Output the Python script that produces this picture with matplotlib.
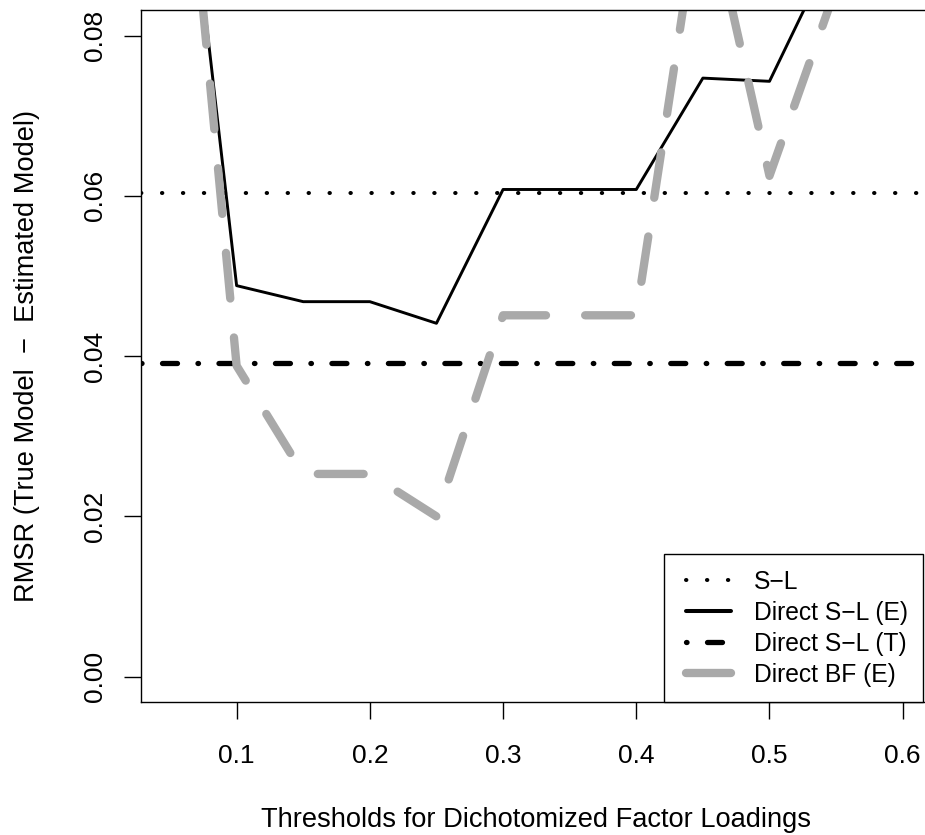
import matplotlib
matplotlib.use("Agg")
import matplotlib.pyplot as plt
from matplotlib.lines import Line2D
from matplotlib.legend_handler import HandlerLine2D

# thresholds on x, RMSR values
thresholds = [0.05, 0.10, 0.15, 0.20, 0.25, 0.30, 0.35, 0.40, 0.45, 0.50, 0.55, 0.60]
direct_sl_e = [0.121, 0.0488, 0.0468, 0.0468, 0.0441, 0.0608, 0.0608, 0.0608, 0.0747, 0.0743, 0.0915, 0.100]
direct_bf_e = [0.127, 0.0388, 0.0253, 0.0253, 0.0200, 0.0451, 0.0451, 0.0451, 0.0995, 0.0625, 0.086, 0.095]
sl_value = 0.0603
direct_sl_t_value = 0.0392

series_labels = ["S\u2212L", "Direct S\u2212L (E)", "Direct S\u2212L (T)", "Direct BF (E)"]
x_ticks = [0.1, 0.2, 0.3, 0.4, 0.5, 0.6]
y_ticks = [0.00, 0.02, 0.04, 0.06, 0.08]

plt.rcParams["font.family"] = ["Liberation Sans", "DejaVu Sans"]

W, H = 925, 835
fig = plt.figure(figsize=(W / 100, H / 100), dpi=100)
# plot region in pixels (right edge sits past the image border, as in the reference)
left, right, top, bottom = 140.7, 932.0, 10.0, 702.3
ax = fig.add_axes([left / W, (H - bottom) / H, (right - left) / W, (bottom - top) / H])

round_kw = dict(dash_capstyle="round", solid_capstyle="round", dash_joinstyle="round", solid_joinstyle="round")

h_sl = ax.axhline(sl_value, color="black", lw=2.9, linestyle=(0, (0.1, 5.1)), **round_kw)
h_e, = ax.plot(thresholds, direct_sl_e, color="black", lw=2.1, **round_kw)
h_t = ax.axhline(direct_sl_t_value, color="black", lw=3.8, linestyle=(0, (0.1, 3.88, 2.84, 3.88)), **round_kw)
h_bf, = ax.plot(thresholds, direct_bf_e, color="darkgray", lw=6.0, linestyle=(0, (5.5, 4.7)), **round_kw)

ax.set_xlim(0.028, 0.622)
ax.set_ylim(-0.0032, 0.0832)

ax.set_xticks(x_ticks)
ax.set_xticklabels([f"{t:.1f}" for t in x_ticks])
ax.set_yticks(y_ticks)
ax.set_yticklabels([f"{t:.2f}" for t in y_ticks], rotation=90, va="center")

ax.tick_params(axis="both", length=12.0, width=1.0, labelsize=19, color="black")
ax.tick_params(axis="x", pad=18)
ax.tick_params(axis="y", pad=12.2)
for s in ax.spines.values():
    s.set_linewidth(1.0)

ax.set_xlabel("Thresholds for Dichotomized Factor Loadings", fontsize=19.6, va="baseline")
ax.xaxis.set_label_coords(0.5, (bottom - 826.7) / (bottom - top))
ax.set_ylabel("RMSR (True Model  \u2212  Estimated Model)", fontsize=19.6, va="center")
ax.yaxis.set_label_coords((27 - left) / (right - left), 0.5)

# legend proxies: the reference draws a heavier solid handle and an unbroken grey bar
leg_e = Line2D([], [], color="black", lw=2.9, **round_kw)
leg_bf = Line2D([], [], color="darkgray", lw=6.0, **round_kw)

leg = ax.legend(
    [h_sl, leg_e, h_t, leg_bf], series_labels,
    loc="lower right", bbox_to_anchor=(923 / W, (H - 702.3) / H), bbox_transform=fig.transFigure,
    handler_map={Line2D: HandlerLine2D(marker_pad=0.264, numpoints=2)},
    fontsize=17.7, frameon=True, fancybox=False, edgecolor="black", framealpha=1,
    handlelength=2.36, handletextpad=0.67, borderpad=0.62, labelspacing=0.29, borderaxespad=0,
)
leg.get_frame().set_linewidth(1.0)

fig.savefig("out.png", dpi=100)
